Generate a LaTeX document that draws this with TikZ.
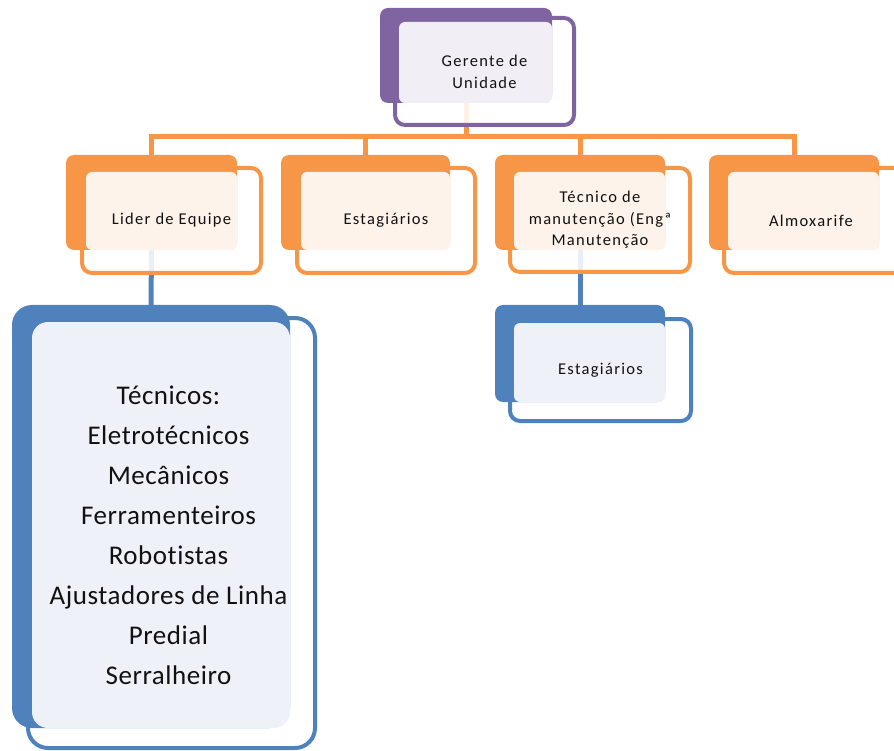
\documentclass[tikz,border=0pt]{standalone}
\usepackage{fontspec}
\setmainfont{Carlito}[Ligatures=NoCommon]
\newfontfamily\boxfont{Carlito}[LetterSpace=8,Ligatures=NoCommon]
\newfontfamily\listfont{Carlito}[LetterSpace=2,Ligatures=NoCommon]
\usetikzlibrary{fit,calc}
\definecolor{orgorange}{HTML}{F79646}
\definecolor{orgpurple}{HTML}{8064A2}
\definecolor{orgblue}{HTML}{4F81BD}
\definecolor{lightorange}{HTML}{FDF3EA}
\definecolor{lightpurple}{HTML}{F1EFF5}
\definecolor{lightblue}{HTML}{EEF2F8}
\definecolor{textdark}{HTML}{111111}
\pgfdeclarelayer{bg}
\pgfsetlayers{bg,main}
\tikzset{
  frontbox/.style={draw=#1, line width=4pt, fill=white, fill opacity=0.88,
    rounded corners=10pt, inner sep=0pt, outer sep=0pt},
  bigfront/.style={frontbox=#1, rounded corners=20pt},
  backbox/.style={fill=#1, draw=none, rounded corners=8pt, inner sep=0pt, outer sep=0pt},
  bigback/.style={backbox=#1, rounded corners=20pt},
  tint/.style={fill=#1, rounded corners=6pt},
  smalltext/.style={text=textdark, align=center, inner sep=0pt,
    font=\boxfont\fontsize{16.5}{21.5}\selectfont},
  bigtext/.style={text=textdark, align=center, inner sep=0pt,
    font=\listfont\fontsize{27}{40}\selectfont},
  orgline/.style={draw=#1, line width=5pt}
}
\begin{document}
\begin{tikzpicture}[x=1pt,y=-1pt]
\useasboundingbox (0,0) rectangle (894,751);

% ---- Gerente de Unidade ----
\node[frontbox=orgpurple, fit={(395,18)(574,125)}] (gerF) {};
\node[backbox=orgpurple, fit={(380,8)(552,103)}] (gerB) {};
\fill[tint=lightpurple] ($(gerF.north west)+(4,4)$) rectangle (gerB.south east);
\node[smalltext, font=\boxfont\fontsize{16.5}{22}\selectfont] (gerT) at (gerF.center) {Gerente de\\Unidade};

% ---- second level (orange) ----
\node[frontbox=orgorange, fit={(82,168)(261,273)}] (liderF) {};
\node[backbox=orgorange, fit={(66,155)(237,250)}] (liderB) {};
\fill[tint=lightorange] ($(liderF.north west)+(4,4)$) rectangle (liderB.south east);
\node[smalltext] (liderT) at (liderF.center) {Lider de Equipe};

\node[frontbox=orgorange, fit={(297,168)(475,273)}] (estF) {};
\node[backbox=orgorange, fit={(281,155)(450,250)}] (estB) {};
\fill[tint=lightorange] ($(estF.north west)+(4,4)$) rectangle (estB.south east);
\node[smalltext] (estT) at (estF.center) {Estagiários};

\node[frontbox=orgorange, fit={(510,168)(690,272)}] (tecF) {};
\node[backbox=orgorange, fit={(495,155)(665,250)}] (tecB) {};
\fill[tint=lightorange] ($(tecF.north west)+(4,4)$) rectangle (tecB.south east);
\node[smalltext] (tecT) at (tecF.center) {Técnico de\\manutenção (Engª\\Manutenção};

\node[frontbox=orgorange, fit={(724,168)(904,273)}] (almF) {};
\node[backbox=orgorange, fit={(709,155)(879,250)}] (almB) {};
\fill[tint=lightorange] ($(almF.north west)+(4,4)$) rectangle (almB.south east);
\node[smalltext] (almT) at ($(almF.center)+(-3,0)$) {Almoxarife};

% ---- third level (blue) ----
\node[bigfront=orgblue, fit={(28,318)(315,748)}] (tecnF) {};
\node[bigback=orgblue, fit={(12,305)(290,728)}] (tecnB) {};
\fill[tint=lightblue, rounded corners=16pt] ($(tecnF.north west)+(4,4)$) rectangle (tecnB.south east);
\node[bigtext] (tecnT) at ($(tecnF.center)+(-3,2)$)
  {Técnicos:\\Eletrotécnicos\\Mecânicos\\Ferramenteiros\\Robotistas\\Ajustadores de Linha\\Predial\\Serralheiro};

\node[frontbox=orgblue, fit={(510,319)(691,421)}] (est2F) {};
\node[backbox=orgblue, fit={(495,305)(665,402)}] (est2B) {};
\fill[tint=lightblue] ($(est2F.north west)+(4,4)$) rectangle (est2B.south east);
\node[smalltext] (est2T) at (est2F.center) {Estagiários};

% ---- connectors, kept behind the boxes ----
\begin{pgfonlayer}{bg}
  \coordinate (bus) at ($(liderB.north)+(0,-18)$);
  \draw[orgline=orgorange] (liderB.north) -- (bus) -- (bus -| almB.north) -- (almB.north);
  \draw[orgline=orgorange] (estB.north) -- (estB.north |- bus);
  \draw[orgline=orgorange] (tecB.north) -- (tecB.north |- bus);
  \draw[orgline=orgorange] (gerB.south) -- (gerB.south |- bus);
  \draw[orgline=orgblue] (liderB.south) -- (tecnB.north);
  \draw[orgline=orgblue] (tecB.south) -- (est2B.north);
\end{pgfonlayer}
\end{tikzpicture}
\end{document}
